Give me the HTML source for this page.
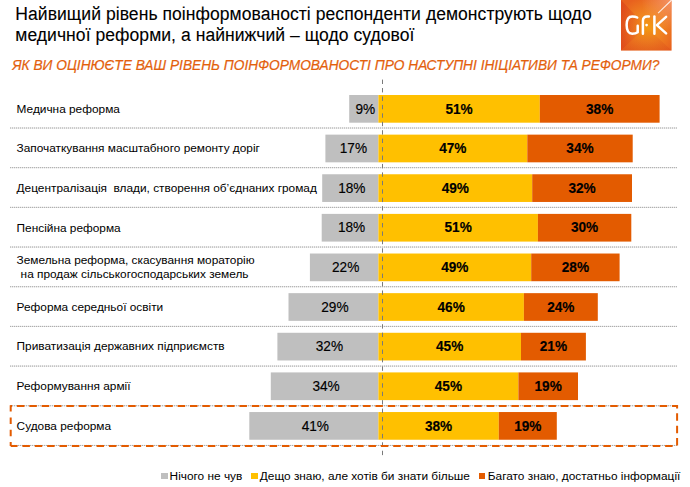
<!DOCTYPE html>
<html><head><meta charset="utf-8">
<style>
html,body{margin:0;padding:0;background:#fff;}
body{width:690px;height:487px;position:relative;overflow:hidden;font-family:"Liberation Sans", sans-serif;}
.t{position:absolute;white-space:nowrap;-webkit-text-stroke:0.1px currentColor;}
.lab{transform:scaleY(0.93);-webkit-text-stroke:0;}
.bar{position:absolute;}
.pct{position:absolute;text-align:center;white-space:nowrap;font-size:13.65px;color:#000;transform:scaleY(1.09);-webkit-text-stroke:0.15px currentColor;}
</style></head><body>
<div class="t" style="left:15.3px;top:4.47px;font-size:17.55px;line-height:20px;letter-spacing:0.05px;color:#000">Найвищий рівень поінформованості респонденти демонструють щодо</div>
<div class="t" style="left:15.3px;top:25.27px;font-size:17.55px;line-height:20px;letter-spacing:0.05px;color:#000">медичної реформи, а найнижчий – щодо судової</div>
<div class="t" style="left:12.2px;top:58.26px;font-size:13.73px;line-height:16px;font-style:italic;color:#E3600C;-webkit-text-stroke:0.2px currentColor;transform:scaleY(1.1)">ЯК ВИ ОЦІНЮЄТЕ ВАШ РІВЕНЬ ПОІНФОРМОВАНОСТІ ПРО НАСТУПНІ ІНІЦІАТИВИ ТА РЕФОРМИ?</div>
<svg class="t" style="left:0;top:0" width="690" height="487">
<line x1="10" y1="128.00" x2="677" y2="128.00" stroke="#E0E0E0" stroke-width="1"/>
<line x1="10" y1="128.00" x2="677" y2="128.00" stroke="#A8A8A8" stroke-width="1" stroke-dasharray="1 1"/>
<line x1="10" y1="167.68" x2="677" y2="167.68" stroke="#E0E0E0" stroke-width="1"/>
<line x1="10" y1="167.68" x2="677" y2="167.68" stroke="#A8A8A8" stroke-width="1" stroke-dasharray="1 1"/>
<line x1="10" y1="207.36" x2="677" y2="207.36" stroke="#E0E0E0" stroke-width="1"/>
<line x1="10" y1="207.36" x2="677" y2="207.36" stroke="#A8A8A8" stroke-width="1" stroke-dasharray="1 1"/>
<line x1="10" y1="247.04" x2="677" y2="247.04" stroke="#E0E0E0" stroke-width="1"/>
<line x1="10" y1="247.04" x2="677" y2="247.04" stroke="#A8A8A8" stroke-width="1" stroke-dasharray="1 1"/>
<line x1="10" y1="286.72" x2="677" y2="286.72" stroke="#E0E0E0" stroke-width="1"/>
<line x1="10" y1="286.72" x2="677" y2="286.72" stroke="#A8A8A8" stroke-width="1" stroke-dasharray="1 1"/>
<line x1="10" y1="326.40" x2="677" y2="326.40" stroke="#E0E0E0" stroke-width="1"/>
<line x1="10" y1="326.40" x2="677" y2="326.40" stroke="#A8A8A8" stroke-width="1" stroke-dasharray="1 1"/>
<line x1="10" y1="366.08" x2="677" y2="366.08" stroke="#E0E0E0" stroke-width="1"/>
<line x1="10" y1="366.08" x2="677" y2="366.08" stroke="#A8A8A8" stroke-width="1" stroke-dasharray="1 1"/>
<line x1="10" y1="405.76" x2="677" y2="405.76" stroke="#E0E0E0" stroke-width="1"/>
<line x1="10" y1="405.76" x2="677" y2="405.76" stroke="#A8A8A8" stroke-width="1" stroke-dasharray="1 1"/>
<line x1="10" y1="445.44" x2="677" y2="445.44" stroke="#E0E0E0" stroke-width="1"/>
<line x1="10" y1="445.44" x2="677" y2="445.44" stroke="#A8A8A8" stroke-width="1" stroke-dasharray="1 1"/>
</svg>
<svg class="t" style="left:0;top:0" width="690" height="487"><rect x="349.20" y="95.00" width="29.20" height="27.7" fill="#BFBFBF"/><rect x="378.40" y="95.00" width="161.40" height="27.7" fill="#FFC000"/><rect x="539.80" y="95.00" width="119.80" height="27.7" fill="#E35B00"/></svg>
<div class="pct" style="left:350.70px;width:29.20px;top:101.51px;line-height:16px">9%</div>
<div class="pct" style="left:378.40px;width:161.40px;top:101.51px;line-height:16px;font-weight:bold">51%</div>
<div class="pct" style="left:539.80px;width:119.80px;top:101.51px;line-height:16px;font-weight:bold">38%</div>
<div class="t lab" style="left:16.6px;top:101.69px;font-size:11.85px;line-height:14px;color:#000000">Медична реформа</div>
<svg class="t" style="left:0;top:0" width="690" height="487"><rect x="325.40" y="134.63" width="53.00" height="27.7" fill="#BFBFBF"/><rect x="378.40" y="134.63" width="148.90" height="27.7" fill="#FFC000"/><rect x="527.30" y="134.63" width="105.40" height="27.7" fill="#E35B00"/></svg>
<div class="pct" style="left:326.90px;width:53.00px;top:141.14px;line-height:16px">17%</div>
<div class="pct" style="left:378.40px;width:148.90px;top:141.14px;line-height:16px;font-weight:bold">47%</div>
<div class="pct" style="left:527.30px;width:105.40px;top:141.14px;line-height:16px;font-weight:bold">34%</div>
<div class="t lab" style="left:16.6px;top:141.32px;font-size:11.85px;line-height:14px;color:#000000">Започаткування масштабного ремонту доріг</div>
<svg class="t" style="left:0;top:0" width="690" height="487"><rect x="322.20" y="174.26" width="56.20" height="27.7" fill="#BFBFBF"/><rect x="378.40" y="174.26" width="153.80" height="27.7" fill="#FFC000"/><rect x="532.20" y="174.26" width="99.80" height="27.7" fill="#E35B00"/></svg>
<div class="pct" style="left:323.70px;width:56.20px;top:180.77px;line-height:16px">18%</div>
<div class="pct" style="left:378.40px;width:153.80px;top:180.77px;line-height:16px;font-weight:bold">49%</div>
<div class="pct" style="left:532.20px;width:99.80px;top:180.77px;line-height:16px;font-weight:bold">32%</div>
<div class="t lab" style="left:16.6px;top:180.95px;font-size:11.85px;line-height:14px;color:#000000">Децентралізація&nbsp; влади, створення об’єднаних громад</div>
<svg class="t" style="left:0;top:0" width="690" height="487"><rect x="321.70" y="213.89" width="56.70" height="27.7" fill="#BFBFBF"/><rect x="378.40" y="213.89" width="159.50" height="27.7" fill="#FFC000"/><rect x="537.90" y="213.89" width="93.40" height="27.7" fill="#E35B00"/></svg>
<div class="pct" style="left:323.20px;width:56.70px;top:220.40px;line-height:16px">18%</div>
<div class="pct" style="left:378.40px;width:159.50px;top:220.40px;line-height:16px;font-weight:bold">51%</div>
<div class="pct" style="left:537.90px;width:93.40px;top:220.40px;line-height:16px;font-weight:bold">30%</div>
<div class="t lab" style="left:16.6px;top:220.58px;font-size:11.85px;line-height:14px;color:#000000">Пенсійна реформа</div>
<svg class="t" style="left:0;top:0" width="690" height="487"><rect x="309.90" y="253.52" width="68.50" height="27.7" fill="#BFBFBF"/><rect x="378.40" y="253.52" width="152.80" height="27.7" fill="#FFC000"/><rect x="531.20" y="253.52" width="88.40" height="27.7" fill="#E35B00"/></svg>
<div class="pct" style="left:311.40px;width:68.50px;top:260.03px;line-height:16px">22%</div>
<div class="pct" style="left:378.40px;width:152.80px;top:260.03px;line-height:16px;font-weight:bold">49%</div>
<div class="pct" style="left:531.20px;width:88.40px;top:260.03px;line-height:16px;font-weight:bold">28%</div>
<div class="t lab" style="left:16.6px;top:252.89px;font-size:11.85px;line-height:14px;color:#000000">Земельна реформа, скасування мораторію</div>
<div class="t lab" style="left:20.6px;top:266.89px;font-size:11.85px;line-height:14px;color:#000000">на продаж сільськогосподарських земель</div>
<svg class="t" style="left:0;top:0" width="690" height="487"><rect x="288.50" y="293.15" width="89.90" height="27.7" fill="#BFBFBF"/><rect x="378.40" y="293.15" width="145.50" height="27.7" fill="#FFC000"/><rect x="523.90" y="293.15" width="73.90" height="27.7" fill="#E35B00"/></svg>
<div class="pct" style="left:290.00px;width:89.90px;top:299.66px;line-height:16px">29%</div>
<div class="pct" style="left:378.40px;width:145.50px;top:299.66px;line-height:16px;font-weight:bold">46%</div>
<div class="pct" style="left:523.90px;width:73.90px;top:299.66px;line-height:16px;font-weight:bold">24%</div>
<div class="t lab" style="left:16.6px;top:299.84px;font-size:11.85px;line-height:14px;color:#000000">Реформа середньої освіти</div>
<svg class="t" style="left:0;top:0" width="690" height="487"><rect x="277.40" y="332.78" width="101.00" height="27.7" fill="#BFBFBF"/><rect x="378.40" y="332.78" width="142.60" height="27.7" fill="#FFC000"/><rect x="521.00" y="332.78" width="64.90" height="27.7" fill="#E35B00"/></svg>
<div class="pct" style="left:278.90px;width:101.00px;top:339.29px;line-height:16px">32%</div>
<div class="pct" style="left:378.40px;width:142.60px;top:339.29px;line-height:16px;font-weight:bold">45%</div>
<div class="pct" style="left:521.00px;width:64.90px;top:339.29px;line-height:16px;font-weight:bold">21%</div>
<div class="t lab" style="left:16.6px;top:339.47px;font-size:11.85px;line-height:14px;color:#000000">Приватизація державних підприємств</div>
<svg class="t" style="left:0;top:0" width="690" height="487"><rect x="270.80" y="372.41" width="107.60" height="27.7" fill="#BFBFBF"/><rect x="378.40" y="372.41" width="140.00" height="27.7" fill="#FFC000"/><rect x="518.40" y="372.41" width="59.60" height="27.7" fill="#E35B00"/></svg>
<div class="pct" style="left:272.30px;width:107.60px;top:378.92px;line-height:16px">34%</div>
<div class="pct" style="left:378.40px;width:140.00px;top:378.92px;line-height:16px;font-weight:bold">45%</div>
<div class="pct" style="left:518.40px;width:59.60px;top:378.92px;line-height:16px;font-weight:bold">19%</div>
<div class="t lab" style="left:16.6px;top:379.10px;font-size:11.85px;line-height:14px;color:#000000">Реформування армії</div>
<svg class="t" style="left:0;top:0" width="690" height="487"><rect x="249.30" y="412.04" width="129.10" height="27.7" fill="#BFBFBF"/><rect x="378.40" y="412.04" width="120.40" height="27.7" fill="#FFC000"/><rect x="498.80" y="412.04" width="58.00" height="27.7" fill="#E35B00"/></svg>
<div class="pct" style="left:250.80px;width:129.10px;top:418.55px;line-height:16px">41%</div>
<div class="pct" style="left:378.40px;width:120.40px;top:418.55px;line-height:16px;font-weight:bold">38%</div>
<div class="pct" style="left:498.80px;width:58.00px;top:418.55px;line-height:16px;font-weight:bold">19%</div>
<div class="t lab" style="left:16.6px;top:418.73px;font-size:11.85px;line-height:14px;color:#000000">Судова реформа</div>
<svg class="t" style="left:0;top:0" width="690" height="487">
<line x1="382.5" y1="79.6" x2="382.5" y2="455.3" stroke="#7A7A7A" stroke-width="1.0" stroke-dasharray="4.4 4.035"/>
<path d="M10.7 406.0 L677.1 406.0 L677.1 445.9 L10.7 445.9" fill="none" stroke="#E35B00" stroke-width="2.0" stroke-dasharray="7.5 4.86" stroke-dashoffset="6.10"/>
<path d="M10.7 405.2 L10.7 445.9" fill="none" stroke="#E35B00" stroke-width="2.0" stroke-dasharray="6.4 5.9"/>
</svg>
<div class="bar" style="left:161.2px;top:473.1px;width:6.4px;height:5.8px;background:#BFBFBF"></div>
<div class="t lab" style="left:169.6px;top:469.09px;font-size:11.85px;line-height:14px;color:#000000">Нічого не чув</div>
<div class="bar" style="left:251.3px;top:473.1px;width:6.4px;height:5.8px;background:#FFC000"></div>
<div class="t lab" style="left:259.8px;top:469.09px;font-size:11.85px;line-height:14px;color:#000000">Дещо знаю, але хотів би знати більше</div>
<div class="bar" style="left:479.1px;top:473.1px;width:6.4px;height:5.8px;background:#E35B00"></div>
<div class="t lab" style="left:487.8px;top:469.09px;font-size:11.85px;line-height:14px;color:#000000">Багато знаю, достатньо інформації</div>
<svg class="t" style="left:621px;top:0px" width="51" height="51" viewBox="0 0 51 51">
<defs>
<radialGradient id="lg" cx="0.52" cy="0.55" r="0.62">
<stop offset="0" stop-color="#F49A10"/>
<stop offset="0.45" stop-color="#F08420"/>
<stop offset="1" stop-color="#E8611E"/>
</radialGradient>
<linearGradient id="lft" x1="0" y1="0" x2="1" y2="0">
<stop offset="0" stop-color="#D83A1A" stop-opacity="0.55"/>
<stop offset="1" stop-color="#D83A1A" stop-opacity="0"/>
</linearGradient>
<linearGradient id="bot" x1="0" y1="1" x2="0" y2="0">
<stop offset="0" stop-color="#D84A1A" stop-opacity="0.35"/>
<stop offset="1" stop-color="#D84A1A" stop-opacity="0"/>
</linearGradient>
<radialGradient id="tr" cx="1" cy="0" r="0.6">
<stop offset="0" stop-color="#FFC0A0" stop-opacity="0.55"/>
<stop offset="1" stop-color="#FFC0A0" stop-opacity="0"/>
</radialGradient>
</defs>
<rect x="0" y="0" width="50.6" height="50.5" fill="url(#lg)"/>
<polygon points="0,0 25.3,27 0,50.5" fill="url(#lft)"/>
<polygon points="0,50.5 25.3,27 50.6,50.5" fill="url(#bot)"/>
<rect x="0" y="0" width="50.6" height="50.5" fill="url(#tr)"/>
<g fill="none" stroke="#fff" stroke-width="2.5" stroke-linecap="round" stroke-linejoin="round">
<path d="M16.2 17.5 C15 16.8 13.3 16.45 11.2 16.45 C7.3 16.45 5.65 20 5.65 25.1 C5.65 30.2 7.3 33.75 11.2 33.75 C13.6 33.75 15.4 33.2 16.7 32.2 L16.7 25.7"/>
<path d="M21.9 33.75 L21.9 21 C21.9 17.9 23.6 16.45 26.3 16.45 L27.9 16.5"/>
<path d="M33.4 16.45 L33.4 33.75"/>
<path d="M45.1 16.9 L35.9 25.1 L45.1 33.4"/>
</g>
<circle cx="25.6" cy="25.1" r="1.35" fill="#fff"/>
<line x1="37.1" y1="13.1" x2="50.6" y2="0" stroke="#fff" stroke-width="1.1" opacity="0.85"/>
</svg>
</body></html>
